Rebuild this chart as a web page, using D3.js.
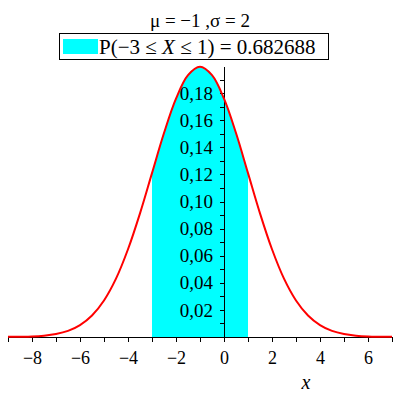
<!DOCTYPE html>
<html>
<head>
<meta charset="utf-8">
<script src="https://cdn.jsdelivr.net/npm/d3@7"></script>
<style>
  body { margin: 0; background: #fff; }
  svg, svg text, .axis { font-family: "Liberation Serif", "Times New Roman", serif; }
  .axis path, .axis line { stroke: #000; stroke-width: 1; shape-rendering: crispEdges; }
  .axis text { fill: #000; }
</style>
</head>
<body>
<svg id="svg_normal" width="400" height="400"></svg>
<script>
// Normal density, mu = -1, sigma = 2
var xValues = [-9, -8.5, -8, -7.5, -7, -6.5, -6, -5.5, -5, -4.5, -4, -3.5, -3, -2.5, -2, -1.5,
               -1, -0.5, 0, 0.5, 1, 1.5, 2, 2.5, 3, 3.5, 4, 4.5, 5, 5.5, 6, 6.5, 7];
var densityValues = [0.0001, 0.0002, 0.0004, 0.0010, 0.0022, 0.0045, 0.0088, 0.0159, 0.0270, 0.0431,
                     0.0648, 0.0913, 0.1210, 0.1506, 0.1760, 0.1933, 0.1995, 0.1933, 0.1760, 0.1506,
                     0.1210, 0.0913, 0.0648, 0.0431, 0.0270, 0.0159, 0.0088, 0.0045, 0.0022, 0.0010,
                     0.0004, 0.0002, 0.0001];
var shadeFrom = -3, shadeTo = 1;
var xTicks = [-9, -8, -7, -6, -5, -4, -3, -2, -1, 0, 1, 2, 3, 4, 5, 6, 7];
var xTickLabels = [-8, -6, -4, -2, 0, 2, 4, 6];
var yTicks = [0.01, 0.02, 0.03, 0.04, 0.05, 0.06, 0.07, 0.08, 0.09, 0.10,
              0.11, 0.12, 0.13, 0.14, 0.15, 0.16, 0.17, 0.18, 0.19];
var yTickLabels = [0.02, 0.04, 0.06, 0.08, 0.10, 0.12, 0.14, 0.16, 0.18];
var titleText = "\u03bc = \u22121 ,\u03c3 = 2";
var probText = "0.682688";

var serif = "'Liberation Serif', 'Times New Roman', serif";
var svg = d3.select("#svg_normal"),
    data = xValues.map(function(d, i) { return {x: d, y: densityValues[i]}; });

var x = d3.scaleLinear()
    .domain([d3.min(xValues), d3.max(xValues)])
    .range([8, 392]);
var y = d3.scaleLinear()
    .domain([0, d3.max(densityValues)])
    .range([337, 66.8]);

// shaded probability
var area = d3.area()
    .x(function(d) { return x(d.x); })
    .y0(y(0))
    .y1(function(d) { return y(d.y); })
    .curve(d3.curveCatmullRom);
svg.append("path")
    .datum(data.filter(function(d) { return d.x >= shadeFrom && d.x <= shadeTo; }))
    .attr("fill", "#00ffff")
    .attr("d", area);

// axes
var fmtY = d3.format(".2f");
svg.append("g")
    .attr("class", "axis axis--x")
    .attr("transform", "translate(0," + y(0) + ")")
    .call(d3.axisBottom(x)
      .tickValues(xTicks)
      .tickSize(5)
      .tickSizeOuter(0)
      .tickPadding(9)
      .tickFormat(function(d) { return xTickLabels.indexOf(d) >= 0 ? d3.format("d")(d) : ""; }))
    .attr("font-family", serif)
    .selectAll("text")
      .style("font-size", "18px");

svg.append("g")
    .attr("class", "axis axis--y")
    .attr("transform", "translate(" + x(0) + ",0)")
    .call(d3.axisLeft(y)
      .tickValues(yTicks)
      .tickSize(4)
      .tickSizeOuter(0)
      .tickPadding(7)
      .tickFormat(function(d) {
        var hit = yTickLabels.some(function(v) { return Math.abs(v - d) < 1e-9; });
        return hit ? fmtY(d).replace(".", ",") : "";
      }))
    .attr("font-family", serif)
    .selectAll("text")
      .style("font-size", "19px");

// density curve
var line = d3.line()
    .x(function(d) { return x(d.x); })
    .y(function(d) { return y(d.y); })
    .curve(d3.curveCatmullRom);
svg.append("path")
    .datum(data)
    .attr("fill", "none")
    .attr("stroke", "#ff0000")
    .attr("stroke-width", 2)
    .attr("d", line);

// x label
svg.append("text")
    .attr("x", 306)
    .attr("y", 389)
    .attr("text-anchor", "middle")
    .attr("font-family", serif)
    .style("font-size", "20px")
    .style("font-style", "italic")
    .text("x");

// title
svg.append("text")
    .attr("x", 200)
    .attr("y", 27)
    .attr("text-anchor", "middle")
    .attr("font-family", serif)
    .style("font-size", "19px")
    .text(titleText);

// legend
svg.append("rect")
    .attr("x", 59.5)
    .attr("y", 33.5)
    .attr("width", 269)
    .attr("height", 26)
    .attr("fill", "#fff")
    .attr("stroke", "#000");
svg.append("rect")
    .attr("x", 63)
    .attr("y", 39)
    .attr("width", 35)
    .attr("height", 15)
    .attr("fill", "#00ffff");
var legendText = svg.append("text")
    .attr("x", 99)
    .attr("y", 53.5)
    .attr("font-family", serif)
    .style("font-size", "21px");
legendText.append("tspan").text("P(\u2212" + (-shadeFrom) + "  \u2264 ");
legendText.append("tspan").style("font-style", "italic").text("X");
legendText.append("tspan").text(" \u2264  " + shadeTo + ") = " + probText);
</script>
</body>
</html>
